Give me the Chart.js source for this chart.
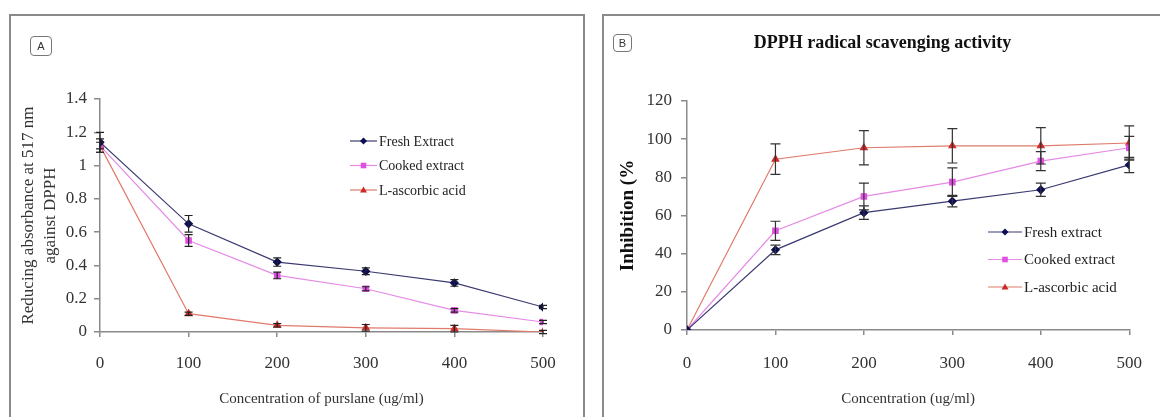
<!DOCTYPE html>
<html>
<head>
<meta charset="utf-8">
<script src="https://cdn.jsdelivr.net/npm/chart.js@4.4.0/dist/chart.umd.min.js"></script>
<style>
body { margin: 0; background: #fff; width: 1160px; height: 417px; overflow: hidden; position: relative; }
.panel { position: absolute; border: 2px solid #8a8a8a; box-sizing: border-box; }
#panelA { left: 9px; top: 14px; width: 576px; height: 430px; }
#panelB { left: 602px; top: 14px; width: 580px; height: 430px; }
.tag { position: absolute; border: 1.5px solid #777; border-radius: 4px; box-sizing: border-box;
       font: 11px "Liberation Sans", Arial, sans-serif; color: #333;
       display: flex; align-items: center; justify-content: center; }
#tagA { left: 30px; top: 36px; width: 22px; height: 20px; }
#tagB { left: 613px; top: 34px; width: 19px; height: 18px; }
canvas { position: absolute; }
#chartA { left: 10px; top: 15px; }
#chartB { left: 603px; top: 15px; }
</style>
</head>
<body>
<div class="panel" id="panelA"></div>
<div class="panel" id="panelB"></div>
<canvas id="chartA" width="574" height="402"></canvas>
<canvas id="chartB" width="557" height="402"></canvas>
<div class="tag" id="tagA">A</div>
<div class="tag" id="tagB">B</div>
<script>
// concentrations (ug/ml)
const concentrations = [0, 100, 200, 300, 400, 500];

// panel A: reducing absorbance at 517 nm
const absFresh = [1.14, 0.65, 0.42, 0.365, 0.295, 0.15];
const absFreshErr = [0.06, 0.05, 0.025, 0.02, 0.02, 0.01];
const absCooked = [1.12, 0.55, 0.34, 0.26, 0.13, 0.06];
const absCookedErr = [0.04, 0.035, 0.02, 0.012, 0.01, 0.01];
const absAscorbic = [1.12, 0.11, 0.04, 0.025, 0.02, 0.0];
const absAscorbicErr = [0.02, 0.01, 0.01, 0.02, 0.02, 0.01];

// panel B: inhibition (%)
const inhFresh = [0, 42, 61.5, 67.5, 73.5, 86.5];
const inhFreshErr = [0, 2.5, 3.5, 3, 3.5, 4];
const inhCooked = [0, 52, 70, 77.5, 88.5, 95.5];
const inhCookedErr = [0, 5, 7, 7.5, 5, 6];
const inhAscorbic = [0, 89.5, 95.5, 96.5, 96.5, 98];
const inhAscorbicErr = [0, 8, 9, 9, 9.5, 9];

const yTicksA = { min: 0, max: 1.4, step: 0.2 };
const yTicksB = { min: 0, max: 120, step: 20 };

Chart.defaults.font.family = "'Liberation Serif', 'Times New Roman', serif";
Chart.defaults.color = '#333';

const toPoints = (ys) => concentrations.map((x, i) => ({ x: x, y: ys[i] }));

function series(label, values, errors, color, lineColor, style, radius) {
    return {
        label: label,
        data: toPoints(values),
        errors: errors,
        borderColor: lineColor,
        backgroundColor: color,
        pointBorderColor: color,
        pointBackgroundColor: color,
        pointStyle: style,
        pointRadius: radius,
        borderWidth: 1.2,
        tension: 0
    };
}

function drawMarker(ctx, style, x, y, r) {
    ctx.beginPath();
    if (style === 'rectRot') {
        ctx.moveTo(x, y - r); ctx.lineTo(x + r, y); ctx.lineTo(x, y + r); ctx.lineTo(x - r, y);
    } else if (style === 'rect') {
        ctx.rect(x - r * 0.8, y - r * 0.8, r * 1.6, r * 1.6);
    } else {
        ctx.moveTo(x, y - r); ctx.lineTo(x + r, y + r * 0.7); ctx.lineTo(x - r, y + r * 0.7);
    }
    ctx.closePath();
    ctx.fill();
}

const errorBars = {
    id: 'errorBars',
    afterDatasetsDraw(chart, args, opts) {
        const ctx = chart.ctx;
        const xs = chart.scales.x, ys = chart.scales.y;
        chart.data.datasets.forEach(ds => {
            if (!ds.errors) return;
            ctx.save();
            ctx.strokeStyle = opts.color || '#222';
            ctx.lineWidth = 1.2;
            ds.data.forEach((p, j) => {
                const e = ds.errors[j];
                if (!e) return;
                const x = xs.getPixelForValue(p.x);
                const y1 = ys.getPixelForValue(p.y - e);
                const y2 = ys.getPixelForValue(p.y + e);
                ctx.beginPath();
                ctx.moveTo(x, y1); ctx.lineTo(x, y2);
                ctx.moveTo(x - opts.cap, y1); ctx.lineTo(x + opts.cap, y1);
                ctx.moveTo(x - opts.cap, y2); ctx.lineTo(x + opts.cap, y2);
                ctx.stroke();
            });
            ctx.restore();
        });
    }
};

const innerLegend = {
    id: 'innerLegend',
    afterDraw(chart, args, opts) {
        const ctx = chart.ctx;
        ctx.save();
        ctx.font = opts.size + "px 'Liberation Serif', serif";
        ctx.textBaseline = 'middle';
        chart.data.datasets.forEach((ds, i) => {
            const y = opts.y + i * opts.gap;
            ctx.strokeStyle = ds.borderColor;
            ctx.lineWidth = 1.2;
            ctx.beginPath();
            ctx.moveTo(opts.x, y); ctx.lineTo(opts.x + opts.len, y);
            ctx.stroke();
            ctx.fillStyle = ds.pointBackgroundColor;
            drawMarker(ctx, ds.pointStyle, opts.x + opts.len / 2, y, 3.5);
            ctx.fillStyle = '#222';
            ctx.fillText(ds.label, opts.x + opts.len + 2, y + 1);
        });
        ctx.restore();
    }
};

function axisStyle(tickLen) {
    return {
        drawOnChartArea: false,
        drawTicks: true,
        tickLength: tickLen,
        color: '#8a8a8a',
        lineWidth: 1.5
    };
}

new Chart(document.getElementById('chartA'), {
    type: 'line',
    data: {
        datasets: [
            series('Fresh Extract', absFresh, absFreshErr, '#0d0d55', '#3a3a70', 'rectRot', 3.8),
            series('Cooked extract', absCooked, absCookedErr, '#e050e0', '#e58ae5', 'rect', 3.8),
            series('L-ascorbic acid', absAscorbic, absAscorbicErr, '#cc2a2a', '#e07a6a', 'triangle', 3.8)
        ]
    },
    options: {
        responsive: false,
        animation: false,
        layout: { padding: { left: 0, right: 41, top: 84, bottom: 0 } },
        plugins: {
            legend: { display: false },
            tooltip: { enabled: false },
            errorBars: { cap: 4, color: '#222' },
            innerLegend: { x: 340, y: 126, gap: 24.5, len: 27, size: 14 }
        },
        scales: {
            x: {
                type: 'linear',
                min: 0, max: 500,
                afterFit(s) { s.height = 85; },
                ticks: { stepSize: 100, padding: 16, font: { size: 17 } },
                grid: axisStyle(5),
                border: { color: '#8a8a8a', width: 1.5 },
                title: { display: true, text: 'Concentration of purslane (ug/ml)', font: { size: 15 }, padding: { top: 0, bottom: 9 } }
            },
            y: {
                min: yTicksA.min, max: yTicksA.max,
                afterFit(s) { s.width = 90; },
                ticks: {
                    stepSize: yTicksA.step, padding: 7, font: { size: 17 },
                    callback: (v) => String(Math.round(v * 10) / 10)
                },
                grid: axisStyle(6),
                border: { color: '#8a8a8a', width: 1.5 },
                title: { display: true, text: ['Reducing absorbance at 517 nm', 'against DPPH'], font: { size: 17, lineHeight: 1.3 }, padding: { top: 7, bottom: 0 } }
            }
        }
    },
    plugins: [errorBars, innerLegend]
});

new Chart(document.getElementById('chartB'), {
    type: 'line',
    data: {
        datasets: [
            series('Fresh extract', inhFresh, inhFreshErr, '#0d0d55', '#3a3a70', 'rectRot', 3.8),
            series('Cooked extract', inhCooked, inhCookedErr, '#e050e0', '#e58ae5', 'rect', 3.8),
            series('L-ascorbic acid', inhAscorbic, inhAscorbicErr, '#cc2a2a', '#e07a6a', 'triangle', 3.8)
        ]
    },
    options: {
        responsive: false,
        animation: false,
        layout: { padding: { left: 30, right: 28, top: 0, bottom: 0 } },
        plugins: {
            legend: { display: false },
            tooltip: { enabled: false },
            title: {
                display: true,
                text: 'DPPH radical scavenging activity',
                color: '#111',
                font: { size: 18, weight: 'bold' },
                padding: { top: 17.2, bottom: 47.2 }
            },
            errorBars: { cap: 5, color: '#333' },
            innerLegend: { x: 385, y: 217, gap: 27.5, len: 34, size: 15 }
        },
        scales: {
            x: {
                type: 'linear',
                min: 0, max: 500,
                afterFit(s) { s.height = 87; },
                ticks: { stepSize: 100, padding: 18, font: { size: 17 } },
                grid: axisStyle(5),
                border: { color: '#8a8a8a', width: 1.5 },
                title: { display: true, text: 'Concentration (ug/ml)', font: { size: 15 }, padding: { top: 0, bottom: 9 } }
            },
            y: {
                min: yTicksB.min, max: yTicksB.max,
                afterFit(s) { s.width = 54; },
                ticks: { stepSize: yTicksB.step, padding: 9, font: { size: 17 } },
                grid: axisStyle(6),
                border: { color: '#8a8a8a', width: 1.5 },
                title: { display: true, text: 'Inhibition (%', color: '#111', font: { size: 19, weight: 'bold' }, padding: { top: -16.4, bottom: 0 } }
            }
        }
    },
    plugins: [errorBars, innerLegend]
});
</script>
</body>
</html>
